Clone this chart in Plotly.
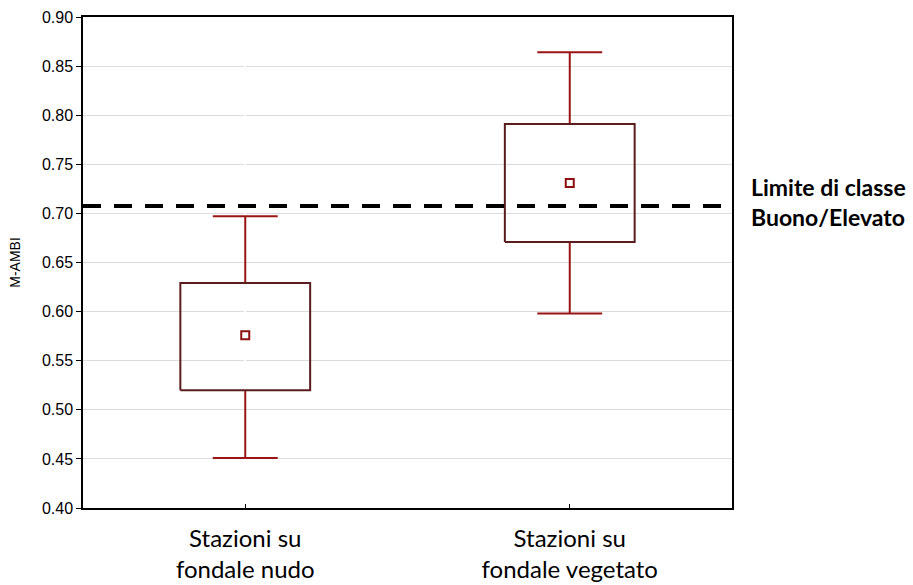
import plotly.graph_objects as go

# Group summaries for M-AMBI
groups = ["Stazioni su<br>fondale nudo", "Stazioni su<br>fondale vegetato"]
means = [0.576, 0.731]
box_low = [0.520, 0.671]
box_high = [0.629, 0.791]
whisk_low = [0.451, 0.598]
whisk_high = [0.697, 0.864]
threshold = 0.7075

y_ticks = [0.40, 0.45, 0.50, 0.55, 0.60, 0.65, 0.70, 0.75, 0.80, 0.85, 0.90]
y_ticktext = [f"{v:.2f}" for v in y_ticks]

BOX_COLOR = "#5a1c1c"
WHISK_COLOR = "#9a1414"
MEAN_COLOR = "#8e1010"
half_box = 0.2
half_cap = 0.1

positions = list(range(len(groups)))
fig = go.Figure()

for p, lo, hi, wl, wh in zip(positions, box_low, box_high, whisk_low, whisk_high):
    # whiskers with caps
    fig.add_trace(go.Scatter(
        x=[p, p, None, p, p, None, p - half_cap, p + half_cap, None, p - half_cap, p + half_cap],
        y=[hi, wh, None, lo, wl, None, wh, wh, None, wl, wl],
        mode="lines", line=dict(color=WHISK_COLOR, width=2),
        hoverinfo="skip", showlegend=False))
    # box outline
    fig.add_trace(go.Scatter(
        x=[p - half_box, p + half_box, p + half_box, p - half_box, p - half_box],
        y=[lo, lo, hi, hi, lo],
        mode="lines", line=dict(color=BOX_COLOR, width=2),
        hoverinfo="skip", showlegend=False))

# mean markers
fig.add_trace(go.Scatter(
    x=positions, y=means, mode="markers",
    marker=dict(symbol="square-open", size=8, color=MEAN_COLOR, line=dict(width=2, color=MEAN_COLOR)),
    showlegend=False))

# class boundary
fig.add_shape(type="line", xref="paper", x0=0, x1=1, yref="y", y0=threshold, y1=threshold,
              line=dict(color="black", width=4, dash="18px,13px"))
fig.add_annotation(xref="paper", x=1, xshift=17, xanchor="left", yref="y", y=threshold,
                   yshift=4, yanchor="middle", align="left", showarrow=False,
                   text="<b>Limite di classe</b><br><b>Buono/Elevato</b>",
                   font=dict(family="Lato", size=23, color="black"))

fig.update_layout(
    width=913, height=585,
    margin=dict(l=83, r=181, t=17, b=77),
    paper_bgcolor="white", plot_bgcolor="white",
    font=dict(family="Liberation Sans", color="black"),
)
fig.update_xaxes(
    range=[-0.5, 1.5], tickmode="array", tickvals=positions, ticktext=groups,
    ticks="inside", ticklen=4, tickcolor="black", showgrid=False, automargin=False,
    showline=True, linecolor="black", linewidth=1.5, mirror=True,
    tickfont=dict(family="Lato", size=24, color="black"), ticklabelstandoff=8,
)
fig.update_yaxes(
    range=[0.40, 0.90], tickmode="array", tickvals=y_ticks, ticktext=y_ticktext,
    automargin=False, ticks="outside", ticklen=5, tickcolor="black",
    showgrid=True, gridcolor="#dcdcdc", gridwidth=1,
    showline=True, linecolor="black", linewidth=1.5, mirror=True, zeroline=False,
    tickfont=dict(family="Liberation Sans", size=16, color="black"),
    title=dict(text="M-AMBI", font=dict(family="Liberation Sans", size=14, color="black"), standoff=18),
)

fig.write_html("out.html")
